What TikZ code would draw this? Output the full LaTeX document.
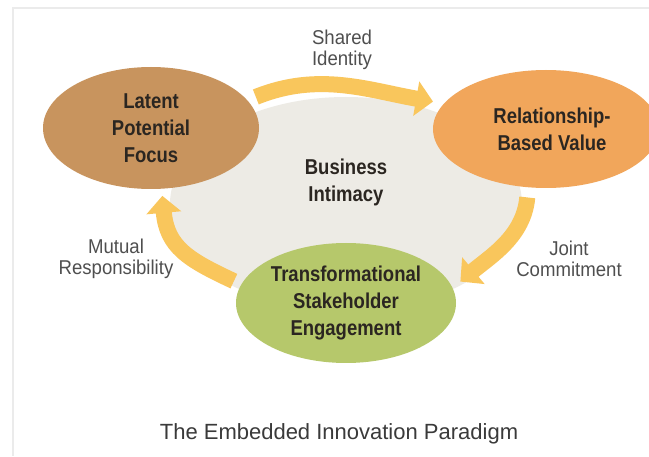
\documentclass[tikz,border=0pt]{standalone}
\usepackage{fontspec}
\setmainfont{Liberation Sans}
\newfontfamily\condbold[FakeStretch=0.86]{Liberation Sans}
\newfontfamily\condlight[FakeStretch=0.93]{Liberation Sans}
\usetikzlibrary{arrows.meta,shapes.geometric}
\definecolor{page}{HTML}{FFFFFF}
\definecolor{frameGrey}{HTML}{EBEBEB}
\definecolor{core}{HTML}{EDEBE5}
\definecolor{latentTan}{HTML}{C8945E}
\definecolor{valueOrange}{HTML}{F1A65B}
\definecolor{engageGreen}{HTML}{B6C86B}
\definecolor{flowYellow}{HTML}{F9C65C}
\definecolor{ink}{HTML}{2B2621}
\definecolor{muted}{HTML}{4F4F4F}
\definecolor{caption}{HTML}{3A3A3A}

\begin{document}
\begin{tikzpicture}[
    x=1pt, y=1pt,
    stage/.style={
        ellipse, inner sep=0pt,
        minimum width=218pt, minimum height=120pt,
    },
    stagetext/.style={
        align=center, text=ink,
        font=\condbold\bfseries\fontsize{21.5}{27}\selectfont,
    },
    edgenote/.style={
        align=center, text=muted,
        font=\condlight\fontsize{20}{21}\selectfont,
    },
    flow/.style={draw=flowYellow, line width=16pt,
        -{Triangle[width=34pt,length=17pt]}},
]

% Background and page frame
\useasboundingbox (0,0) rectangle (649,456);
\clip (0,0) rectangle (649,456);
\fill[page] (0,0) rectangle (649,456);
\draw[frameGrey, line width=2pt] (13,0) -- (13,448) -- (649,448);

% Shared core behind the cycle
\node[ellipse, fill=core, minimum width=352pt, minimum height=214pt] (core) at (346,252) {};
\node[stagetext] (intimacy) at (346,274) {Business\\Intimacy};

% =============================================================
% THE THREE STAGES
% =============================================================
\node[stage, fill=latentTan, minimum width=216pt, minimum height=122pt,
      label={[stagetext]center:Latent\\Potential\\Focus}] (latent) at (151,328) {};

\node[stage, fill=valueOrange, minimum width=226pt, minimum height=118pt,
      label={[stagetext, xshift=6pt]center:Relationship-\\Based Value}] (relation) at (546,327) {};

\node[stage, fill=engageGreen, minimum width=220pt, minimum height=120pt,
      label={[stagetext]center:Transformational\\Stakeholder\\Engagement}] (engage) at (346,153) {};

% Cycle of flows
\draw[flow, shorten <=9pt, shorten >=11pt]
    (latent.16) to[out=22, in=170] (relation.166);
\draw[flow, shorten <=10pt, shorten >=10pt]
    (relation.253) to[out=-95, in=40] (engage.8);
\draw[flow, shorten <=8pt, shorten >=7pt]
    (engage.170) to[out=155, in=-85, looseness=1.2] (latent.-80);

% Flow notes
\node[edgenote] (shared) at (342,406) {Shared\\Identity};
\node[edgenote] (joint) at (569,197) {Joint\\Commitment};
\node[edgenote] (mutual) at (116,197) {Mutual\\Responsibility};

% Caption
\node[text=caption, font=\fontsize{22}{24}\selectfont] (title) at (339,22)
    {The Embedded Innovation Paradigm};

\end{tikzpicture}
\end{document}
